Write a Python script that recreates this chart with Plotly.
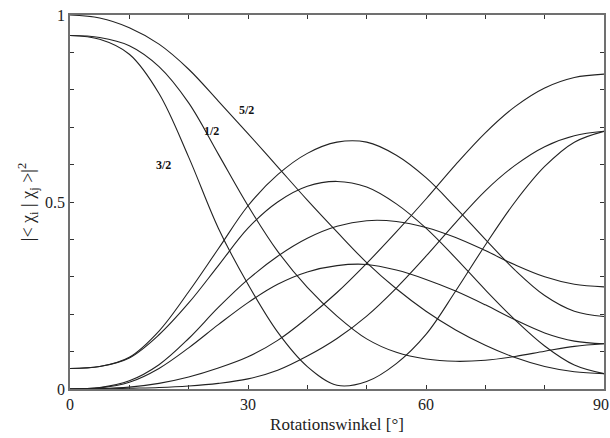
import plotly.graph_objects as go

# Rotation angle in degrees
angle = [0, 5, 10, 15, 20, 25, 30, 35, 40, 45, 50, 55, 60, 65, 70, 75, 80, 85, 90]

# |<chi_i|chi_j>|^2 for each pair
s52_a = [1.0, 0.992, 0.966, 0.922, 0.855, 0.77, 0.683, 0.594, 0.505, 0.42, 0.338, 0.268, 0.208, 0.158, 0.117, 0.084, 0.06, 0.046, 0.041]
s12_a = [0.945, 0.94, 0.918, 0.862, 0.765, 0.628, 0.49, 0.368, 0.272, 0.195, 0.134, 0.098, 0.08, 0.074, 0.077, 0.087, 0.101, 0.114, 0.121]
s32_a = [0.945, 0.935, 0.895, 0.79, 0.62, 0.43, 0.28, 0.152, 0.06, 0.01, 0.02, 0.068, 0.146, 0.262, 0.385, 0.5, 0.595, 0.66, 0.689]
hump1 = [0.055, 0.06, 0.085, 0.155, 0.26, 0.375, 0.49, 0.573, 0.63, 0.66, 0.66, 0.625, 0.565, 0.485, 0.40, 0.318, 0.25, 0.208, 0.194]
hump2 = [0.055, 0.06, 0.083, 0.145, 0.23, 0.33, 0.43, 0.50, 0.542, 0.555, 0.54, 0.495, 0.43, 0.35, 0.265, 0.185, 0.115, 0.064, 0.041]
hump3 = [0.0, 0.004, 0.022, 0.065, 0.135, 0.218, 0.293, 0.355, 0.403, 0.435, 0.45, 0.448, 0.432, 0.405, 0.37, 0.332, 0.30, 0.28, 0.273]
hump4 = [0.0, 0.003, 0.018, 0.055, 0.11, 0.172, 0.231, 0.28, 0.313, 0.33, 0.333, 0.318, 0.293, 0.262, 0.225, 0.185, 0.15, 0.128, 0.121]
rise1 = [0.0, 0.001, 0.005, 0.015, 0.032, 0.056, 0.086, 0.13, 0.19, 0.258, 0.336, 0.42, 0.508, 0.60, 0.685, 0.755, 0.805, 0.833, 0.842]
rise2 = [0.0, 0.0, 0.002, 0.004, 0.008, 0.015, 0.027, 0.05, 0.088, 0.135, 0.195, 0.27, 0.355, 0.445, 0.53, 0.598, 0.648, 0.677, 0.689]

curves = [s52_a, s12_a, s32_a, hump1, hump2, hump3, hump4, rise1, rise2]

# Curve labels
label_text = ["5/2", "1/2", "3/2"]
label_x = [29.8, 23.8, 15.7]
label_y = [0.747, 0.689, 0.600]

x_ticks = [0, 10, 20, 30, 40, 50, 60, 70, 80, 90]
x_ticktext = ["0", "", "", "30", "", "", "60", "", "", ""]
y_ticks = [0, 0.1, 0.2, 0.3, 0.4, 0.5, 0.6, 0.7, 0.8, 0.9, 1.0]
y_ticktext = ["0", "", "", "", "", "0.5", "", "", "", "", "1"]

serif = "Liberation Serif, Times New Roman, Times, serif"

fig = go.Figure()
for ys in curves:
    fig.add_trace(go.Scatter(
        x=angle, y=ys, mode="lines",
        line=dict(color="#222222", width=1.1, shape="spline", smoothing=1.0),
        showlegend=False, hoverinfo="skip",
    ))

for t, lx, ly in zip(label_text, label_x, label_y):
    fig.add_annotation(x=lx, y=ly, text="<b>%s</b>" % t, showarrow=False,
                       font=dict(family=serif, size=12, color="#111111"))

# last x tick label, kept inside the page edge
fig.add_annotation(x=90, y=0, xref="x", yref="y", text="90", showarrow=False,
                   xanchor="right", yanchor="top", xshift=7, yshift=-5,
                   font=dict(family=serif, size=16, color="#222222"))

axis_common = dict(
    showline=True, linecolor="#707070", linewidth=1.5, mirror="ticks",
    ticks="inside", ticklen=4, tickwidth=1, tickcolor="#333333",
    showgrid=False, zeroline=False, automargin=False,
    tickfont=dict(family=serif, size=16, color="#222222"),
)

fig.update_xaxes(range=[0, 90], tickmode="array", tickvals=x_ticks, ticktext=x_ticktext,
                 title=dict(text="Rotationswinkel [°]", standoff=6,
                            font=dict(family=serif, size=17, color="#222222")),
                 **axis_common)
fig.update_yaxes(range=[0, 1], tickmode="array", tickvals=y_ticks, ticktext=y_ticktext,
                 title=dict(text="|&lt; χ<sub>i</sub> | χ<sub>j</sub> &gt;|<sup>2</sup>", standoff=6,
                            font=dict(family=serif, size=18, color="#222222")),
                 **axis_common)

fig.update_layout(
    width=610, height=438,
    margin=dict(l=70, r=6, t=15, b=49),
    plot_bgcolor="white", paper_bgcolor="white",
)

fig.write_html("out.html")
